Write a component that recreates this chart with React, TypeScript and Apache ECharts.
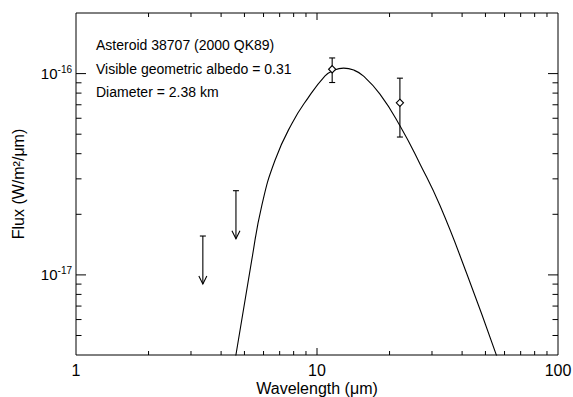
import React, { useEffect, useRef } from "react";
import * as echarts from "echarts";

const X_MIN = 1;
const X_MAX = 100;
const Y_MIN = 4e-18;
const Y_MAX = 2e-16;

const xMajorTicks = [10];
const xMinorTicks = [2, 3, 4, 5, 6, 7, 8, 9, 20, 30, 40, 50, 60, 70, 80, 90];
const yMajorTicks = [1e-17, 1e-16];
const yMinorTicks = [5e-18, 6e-18, 7e-18, 8e-18, 9e-18, 2e-17, 3e-17, 4e-17, 5e-17, 6e-17, 7e-17, 8e-17, 9e-17];

// detections with error bars
const detWave = [11.56, 22.08];
const detFlux = [1.051e-16, 7.16e-17];
const detLow = [9.03e-17, 4.84e-17];
const detHigh = [1.196e-16, 9.49e-17];

// upper limits
const limWave = [3.36, 4.61];
const limFlux = [1.56e-17, 2.62e-17];

// thermal model curve
const modelWave = [4.6, 5.36, 5.9, 6.69, 7.85, 9.2, 10.8, 11.56, 12.9, 14.2, 15.56, 18.25, 22.09, 26.75, 32.38, 41.8, 55.7];
const modelFlux = [3.95e-18, 1.183e-17, 2.21e-17, 3.7e-17, 5.62e-17, 7.6e-17, 9.74e-17, 1.03e-16, 1.065e-16, 1.041e-16, 9.74e-17, 7.91e-17, 5.51e-17, 3.56e-17, 2.21e-17, 1.016e-17, 3.95e-18];

const notes = ["Asteroid 38707 (2000 QK89)", "Visible geometric albedo = 0.31", "Diameter = 2.38 km"];

const FONT = "'Liberation Sans', Arial, Helvetica, sans-serif";

const isPow10 = (v: number) => Math.abs(Math.log10(v) - Math.round(Math.log10(v))) < 1e-6;

export default function App() {
  const ref = useRef<HTMLDivElement>(null);
  useEffect(() => {
    if (!ref.current) return;
    const chart = echarts.init(ref.current, undefined, { renderer: "svg" });
    const black = "#000";

    const tickData: number[][] = [];
    xMinorTicks.forEach((v) => tickData.push([v, Y_MIN, 0]));
    xMajorTicks.forEach((v) => tickData.push([v, Y_MIN, 1]));
    yMinorTicks.forEach((v) => tickData.push([X_MIN, v, 2]));
    yMajorTicks.forEach((v) => tickData.push([X_MIN, v, 3]));

    const option: any = {
      animation: false,
      grid: {
        left: 76,
        right: 15,
        top: 13,
        bottom: 42,
        show: true,
        borderColor: black,
        borderWidth: 1,
        backgroundColor: "transparent",
        containLabel: false,
        outerBoundsMode: "none",
      },
      xAxis: {
        type: "log",
        logBase: 10,
        min: X_MIN,
        max: X_MAX,
        name: "Wavelength (\u03bcm)",
        nameLocation: "middle",
        nameGap: 25,
        nameMoveOverlap: false,
        nameTextStyle: { fontFamily: FONT, fontSize: 16, color: black },
        axisLine: { show: false },
        axisTick: { show: false },
        splitLine: { show: false },
        minorTick: { show: false },
        axisLabel: {
          margin: 7,
          fontFamily: FONT,
          fontSize: 16,
          color: black,
          formatter: (v: number) => (isPow10(v) ? String(Math.round(v)) : ""),
        },
      },
      yAxis: {
        type: "log",
        logBase: 10,
        min: Y_MIN,
        max: Y_MAX,
        name: "Flux (W/m\u00b2/\u03bcm)",
        nameLocation: "middle",
        nameGap: 50,
        nameMoveOverlap: false,
        nameTextStyle: { fontFamily: FONT, fontSize: 16, color: black },
        axisLine: { show: false },
        axisTick: { show: false },
        splitLine: { show: false },
        minorTick: { show: false },
        axisLabel: {
          margin: 4,
          fontFamily: FONT,
          color: black,
          formatter: (v: number) => {
            if (!isPow10(v)) return "";
            return "{b|10}{s|" + Math.round(Math.log10(v)) + "}";
          },
          rich: {
            b: { fontFamily: FONT, fontSize: 15, color: black },
            s: { fontFamily: FONT, fontSize: 10, color: black, padding: [0, 0, 9, 0] },
          },
        },
      },
      graphic: notes.map((t, i) => ({
        type: "text",
        left: 96,
        top: 38 + i * 23.5,
        style: { text: t, font: "14px " + FONT, fill: black },
      })),
      series: [
        {
          type: "line",
          data: modelWave.map((w, i) => [w, modelFlux[i]]),
          showSymbol: false,
          smooth: 0.5,
          clip: true,
          lineStyle: { color: black, width: 1.1 },
          z: 2,
        },
        {
          type: "custom",
          data: limWave.map((w, i) => [w, limFlux[i]]),
          encode: { x: 0, y: 1 },
          clip: false,
          z: 3,
          renderItem: (params: any, api: any) => {
            const p = api.coord([api.value(0), api.value(1)]);
            const len = 48;
            const st = { stroke: black, lineWidth: 1.1, fill: "none" };
            return {
              type: "group",
              children: [
                { type: "line", shape: { x1: p[0], y1: p[1], x2: p[0], y2: p[1] + len }, style: st },
                { type: "line", shape: { x1: p[0] - 3, y1: p[1], x2: p[0] + 3, y2: p[1] }, style: st },
                {
                  type: "polyline",
                  shape: { points: [[p[0] - 4, p[1] + len - 8], [p[0], p[1] + len], [p[0] + 4, p[1] + len - 8]] },
                  style: st,
                },
              ],
            };
          },
        },
        {
          type: "custom",
          data: detWave.map((w, i) => [w, detFlux[i], detLow[i], detHigh[i]]),
          encode: { x: 0, y: 1 },
          clip: false,
          z: 4,
          renderItem: (params: any, api: any) => {
            const x = api.value(0);
            const c = api.coord([x, api.value(1)]);
            const lo = api.coord([x, api.value(2)]);
            const hi = api.coord([x, api.value(3)]);
            const st = { stroke: black, lineWidth: 1.1 };
            const d = 3.6;
            return {
              type: "group",
              children: [
                { type: "line", shape: { x1: c[0], y1: hi[1], x2: c[0], y2: lo[1] }, style: st },
                { type: "line", shape: { x1: c[0] - 3, y1: hi[1], x2: c[0] + 3, y2: hi[1] }, style: st },
                { type: "line", shape: { x1: c[0] - 3, y1: lo[1], x2: c[0] + 3, y2: lo[1] }, style: st },
                {
                  type: "polygon",
                  shape: { points: [[c[0], c[1] - d], [c[0] + d, c[1]], [c[0], c[1] + d], [c[0] - d, c[1]]] },
                  style: { stroke: black, lineWidth: 1.1, fill: "#fff" },
                },
              ],
            };
          },
        },
        {
          type: "custom",
          data: tickData,
          encode: { x: 0, y: 1 },
          clip: false,
          silent: true,
          z: 5,
          renderItem: (params: any, api: any) => {
            const cs = params.coordSys;
            const kind = api.value(2);
            const st = { stroke: black, lineWidth: 1 };
            if (kind < 2) {
              const px = api.coord([api.value(0), Y_MIN])[0];
              const len = kind === 1 ? 7 : 4;
              const yb = cs.y + cs.height;
              return {
                type: "group",
                children: [
                  { type: "line", shape: { x1: px, y1: yb, x2: px, y2: yb - len }, style: st },
                  { type: "line", shape: { x1: px, y1: cs.y, x2: px, y2: cs.y + len }, style: st },
                ],
              };
            }
            const py = api.coord([X_MIN, api.value(1)])[1];
            const len = kind === 3 ? 10 : 5.5;
            const xr = cs.x + cs.width;
            return {
              type: "group",
              children: [
                { type: "line", shape: { x1: cs.x, y1: py, x2: cs.x + len, y2: py }, style: st },
                { type: "line", shape: { x1: xr, y1: py, x2: xr - len, y2: py }, style: st },
              ],
            };
          },
        },
      ],
    };
    chart.setOption(option);
    return () => chart.dispose();
  }, []);
  return <div ref={ref} style={{ width: 573, height: 397, position: "absolute", left: 0, top: 0 }} />;
}
